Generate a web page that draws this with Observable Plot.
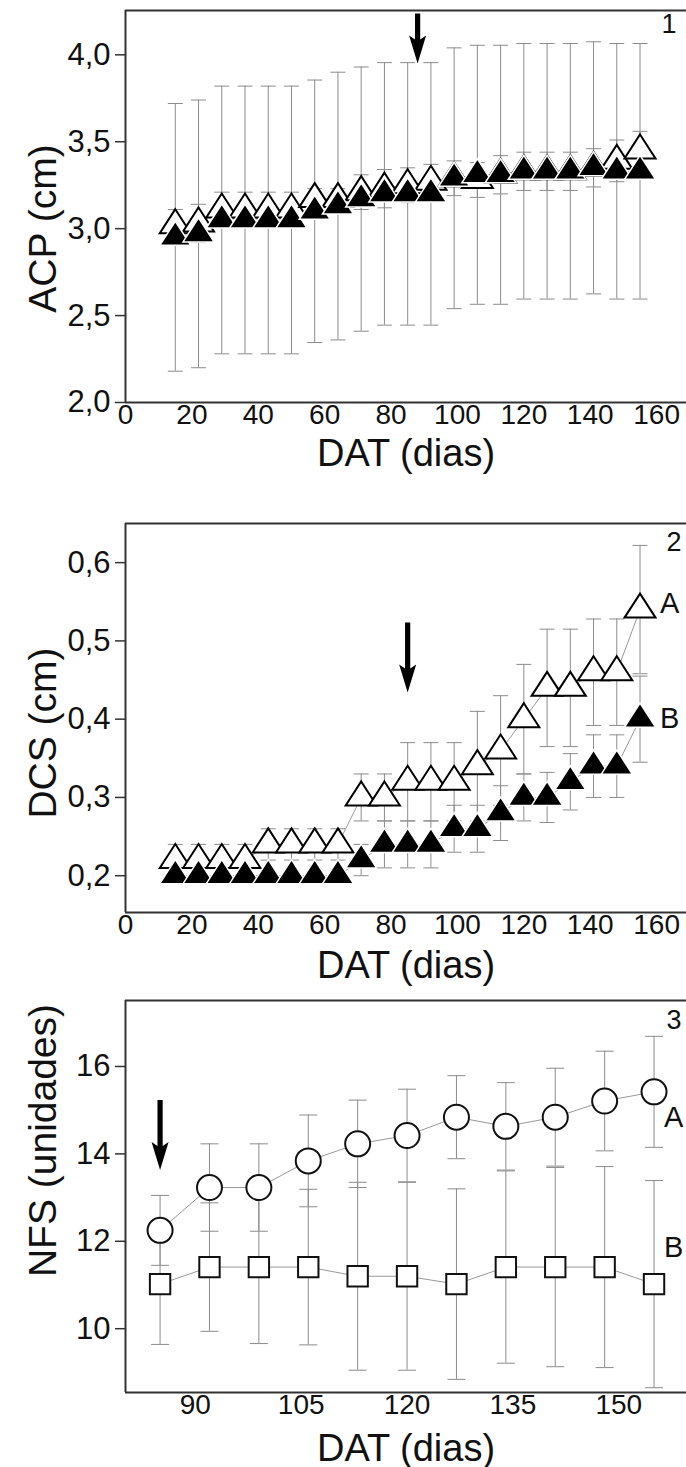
<!DOCTYPE html>
<html><head><meta charset="utf-8">
<script src="https://cdn.jsdelivr.net/npm/d3@7"></script>
<script src="https://cdn.jsdelivr.net/npm/@observablehq/plot@0.6"></script>
<style>
body{margin:0;background:#fff;}
#chart{width:686px;}
#chart svg{display:block;overflow:visible;}
</style></head><body><div id="chart"></div>
<script>
// ---------- data ----------
const days = [15,22,29,36,43,50,57,64,71,78,85,92,99,106,113,120,127,134,141,148,155];
const acpA   = [3.02,3.03,3.11,3.11,3.11,3.11,3.17,3.17,3.21,3.23,3.25,3.27,3.29,3.28,3.31,3.33,3.33,3.33,3.35,3.39,3.45];
const acpAsd = [0.09,0.11,0.10,0.10,0.10,0.10,0.06,0.06,0.10,0.11,0.10,0.10,0.10,0.10,0.11,0.11,0.11,0.11,0.11,0.12,0.11];
const acpB   = [2.95,2.97,3.05,3.05,3.05,3.05,3.10,3.13,3.17,3.20,3.20,3.20,3.29,3.31,3.31,3.33,3.33,3.33,3.35,3.33,3.33];
const acpBsd = [0.77,0.77,0.77,0.77,0.77,0.77,0.755,0.77,0.76,0.755,0.755,0.755,0.75,0.745,0.745,0.735,0.735,0.735,0.725,0.735,0.735];

const dcsA   = [0.22,0.22,0.22,0.22,0.24,0.24,0.24,0.24,0.30,0.30,0.32,0.32,0.32,0.34,0.36,0.40,0.44,0.44,0.46,0.46,0.54];
const dcsAsd = [0.02,0.02,0.02,0.02,0.02,0.02,0.02,0.02,0.03,0.03,0.05,0.05,0.05,0.07,0.07,0.07,0.075,0.075,0.068,0.068,0.082];
const dcsB   = [0.20,0.20,0.20,0.20,0.20,0.20,0.20,0.20,0.22,0.24,0.24,0.24,0.26,0.26,0.28,0.30,0.30,0.32,0.34,0.34,0.40];
const dcsBsd = [0.005,0.005,0.005,0.005,0.005,0.005,0.005,0.005,0.02,0.03,0.03,0.03,0.03,0.03,0.035,0.03,0.032,0.036,0.04,0.04,0.055];

const nfsDays = [85,92,99,106,113,120,127,134,141,148,155];
const nfsA   = [12.25,13.23,13.23,13.84,14.23,14.42,14.84,14.63,14.84,15.21,15.42];
const nfsAsd = [0.80,1.00,1.00,1.05,1.00,1.06,0.95,1.00,1.12,1.14,1.27];
const nfsB   = [11.02,11.41,11.41,11.41,11.20,11.20,11.02,11.41,11.41,11.41,11.02];
const nfsBsd = [1.38,1.47,1.75,1.78,2.15,2.15,2.18,2.20,2.28,2.30,2.37];

const ticksX12 = [0,20,40,60,80,100,120,140,160];
const ticksX3 = [90,105,120,135,150];
const ticksACP = [2.0,2.5,3.0,3.5,4.0];
const ticksDCS = [0.2,0.3,0.4,0.5,0.6];
const ticksNFS = [10,12,14,16];

const arrowDay = [88, 85, 85];
const arrowTip = [3.95, 0.434, 13.63];
const arrowLen = [50, 70, 70];

const panelNames = ["1","2","3"];
const labels2 = [{t:"A", x:155, y:0.548},{t:"B", x:155, y:0.40}];
const labels3 = [{t:"A", x:155, y:14.82},{t:"B", x:155, y:11.85}];

// ---------- helpers ----------
const FONT = "Liberation Sans, Arial, Helvetica, sans-serif";
const fmtComma = d => d.toFixed(1).replace(".", ",");
const rows = (xs, v, sd) => xs.map((x,i)=>({x, v:v[i], sd:sd[i]}));

const capSym = {draw(ctx, size){ const w = Math.sqrt(size/Math.PI); ctx.moveTo(-w,0); ctx.lineTo(w,0); }};
const triSym = {draw(ctx){ ctx.moveTo(0,-16); ctx.lineTo(15.5,8); ctx.lineTo(-15.5,8); ctx.closePath(); }};
const arrowSym = len => ({draw(ctx){
  ctx.moveTo(0,0); ctx.lineTo(-8.5,-28); ctx.lineTo(-2.6,-24); ctx.lineTo(-2.6,-len);
  ctx.lineTo(2.6,-len); ctx.lineTo(2.6,-24); ctx.lineTo(8.5,-28); ctx.closePath();
}});

function errMarks(data, capR){
  return [
    Plot.ruleX(data, {x:"x", y1:d=>d.v-d.sd, y2:d=>d.v+d.sd, stroke:"#8c8c8c", strokeWidth:1}),
    Plot.dot(data, {x:"x", y:d=>d.v+d.sd, symbol:capSym, r:capR, stroke:"#8c8c8c", strokeWidth:1, fill:"none"}),
    Plot.dot(data, {x:"x", y:d=>d.v-d.sd, symbol:capSym, r:capR, stroke:"#8c8c8c", strokeWidth:1, fill:"none"})
  ];
}
function frameMarks(xd, yd){
  return [
    Plot.ruleY([yd[1]], {stroke:"#333", strokeWidth:2}),
    Plot.ruleY([yd[0]], {stroke:"#333", strokeWidth:2}),
    Plot.ruleX([xd[0]], {stroke:"#333", strokeWidth:2})
  ];
}
function axes(xt, yt, yfmt){
  return [
    Plot.axisX({ticks:xt, tickSize:0, tickPadding:2, fontSize:28, tickFormat:d=>String(d), label:null, fill:"#111"}),
    Plot.axisY({ticks:yt, tickSize:10, tickPadding:5, fontSize:31, tickFormat:yfmt, label:null, fill:"#111", stroke:"#333", strokeWidth:1.5})
  ];
}
function common(height, mt, mb, xd, yd){
  return {
    width:686, height, marginLeft:125, marginRight:0, marginTop:mt, marginBottom:mb,
    style:{fontFamily:FONT, fontSize:"28px", color:"#111", background:"white", overflow:"visible"},
    x:{domain:xd}, y:{domain:yd}
  };
}
function titles(xTitle, yTitle, xdy, ydy){
  return [
    Plot.text([xTitle], {frameAnchor:"bottom", dy:xdy, lineAnchor:"middle", textAnchor:"middle", fontSize:38, fill:"#111"}),
    Plot.text([yTitle], {frameAnchor:"left", rotate:-90, dx:-82, dy:ydy, lineAnchor:"middle", textAnchor:"middle", fontSize:39, fill:"#111"})
  ];
}

const chart = document.getElementById("chart");

// ---------- panel 1 ----------
{
  const xd=[0,169], yd=[2.0,4.255];
  const A = rows(days, acpA, acpAsd), B = rows(days, acpB, acpBsd);
  const p = Plot.plot({
    ...common(470, 10, 68, xd, yd),
    marks:[
      ...axes(ticksX12, ticksACP, fmtComma),
      ...errMarks(B, 7.5), ...errMarks(A, 7.5),
      Plot.line(A, {x:"x", y:"v", stroke:"#999", strokeWidth:1}),
      Plot.line(B, {x:"x", y:"v", stroke:"#999", strokeWidth:1}),
      Plot.dot(A, {x:"x", y:"v", symbol:triSym, r:11, fill:"white", stroke:"black", strokeWidth:2}),
      Plot.dot(B, {x:"x", y:"v", symbol:triSym, r:11, fill:"black", stroke:"white", strokeWidth:1.5}),
      Plot.dot([{x:arrowDay[0], y:arrowTip[0]}], {x:"x", y:"y", symbol:arrowSym(arrowLen[0]), r:3, fill:"black", stroke:"none"}),
      ...frameMarks(xd, yd),
      Plot.text([panelNames[0]], {frameAnchor:"top-right", dx:-10, dy:3, fontSize:27, fill:"#111"}),
      ...titles("DAT (dias)", "ACP (cm)", 51, 22)
    ]
  });
  chart.appendChild(p);
}

// ---------- panel 2 ----------
{
  const xd=[0,169], yd=[0.153,0.650];
  const A = rows(days, dcsA, dcsAsd), B = rows(days, dcsB, dcsBsd);
  const p = Plot.plot({
    ...common(515, 53, 73, xd, yd),
    marks:[
      ...axes(ticksX12, ticksDCS, fmtComma),
      ...errMarks(B, 7.5), ...errMarks(A, 7.5),
      Plot.line(A, {x:"x", y:"v", stroke:"#999", strokeWidth:1}),
      Plot.line(B, {x:"x", y:"v", stroke:"#999", strokeWidth:1}),
      Plot.dot(A, {x:"x", y:"v", symbol:triSym, r:11, fill:"white", stroke:"black", strokeWidth:2}),
      Plot.dot(B, {x:"x", y:"v", symbol:triSym, r:11, fill:"black", stroke:"white", strokeWidth:1.5}),
      Plot.dot([{x:arrowDay[1], y:arrowTip[1]}], {x:"x", y:"y", symbol:arrowSym(arrowLen[1]), r:3, fill:"black", stroke:"none"}),
      ...frameMarks(xd, yd),
      Plot.text(labels2, {x:"x", y:"y", text:"t", dx:20, textAnchor:"start", fontSize:29, fill:"#111"}),
      Plot.text([panelNames[1]], {frameAnchor:"top-right", dx:-5, dy:8, fontSize:27, fill:"#111"}),
      ...titles("DAT (dias)", "DCS (cm)", 53, 15)
    ]
  });
  chart.appendChild(p);
}

// ---------- panel 3 ----------
{
  const xd=[80.1,159.6], yd=[8.54,17.51];
  const A = rows(nfsDays, nfsA, nfsAsd), B = rows(nfsDays, nfsB, nfsBsd);
  const p = Plot.plot({
    ...common(482, 15, 75, xd, yd),
    marks:[
      ...axes(ticksX3, ticksNFS, d=>String(d)),
      ...errMarks(B, 9), ...errMarks(A, 9),
      Plot.line(A, {x:"x", y:"v", stroke:"#999", strokeWidth:1}),
      Plot.line(B, {x:"x", y:"v", stroke:"#999", strokeWidth:1}),
      Plot.dot(A, {x:"x", y:"v", symbol:"circle", r:12.5, fill:"white", stroke:"#111", strokeWidth:2}),
      Plot.dot(B, {x:"x", y:"v", symbol:"square", r:11.5, fill:"white", stroke:"#111", strokeWidth:2}),
      Plot.dot([{x:arrowDay[2], y:arrowTip[2]}], {x:"x", y:"y", symbol:arrowSym(arrowLen[2]), r:3, fill:"black", stroke:"none"}),
      ...frameMarks(xd, yd),
      Plot.text(labels3, {x:"x", y:"y", text:"t", dx:10, textAnchor:"start", fontSize:29, fill:"#111"}),
      Plot.text([panelNames[2]], {frameAnchor:"top-right", dx:-5, dy:9, fontSize:27, fill:"#111"}),
      ...titles("DAT (dias)", "NFS (unidades)", 56, -56)
    ]
  });
  chart.appendChild(p);
}
</script>
</body></html>
